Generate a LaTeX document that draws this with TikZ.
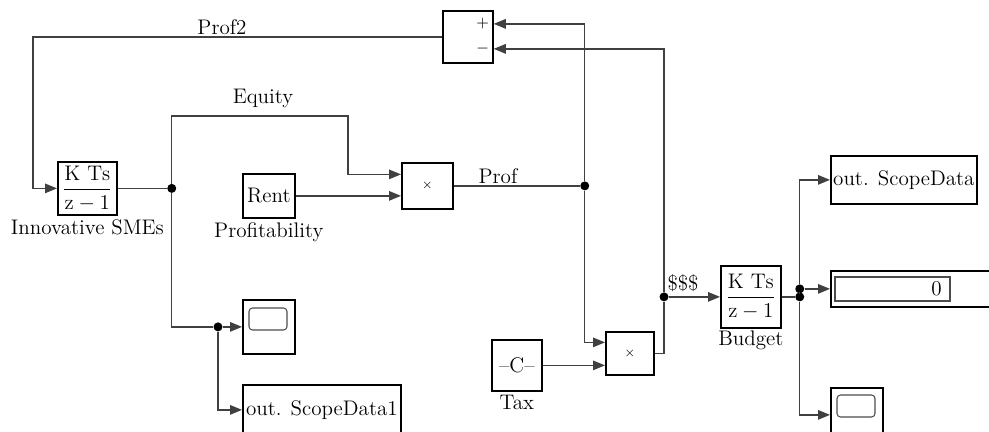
\documentclass[tikz,border=0pt]{standalone}
\usepackage{amsmath}
\usetikzlibrary{arrows.meta,calc}

\begin{document}
\begin{tikzpicture}[x=0.02cm,y=-0.02cm,
	font=\fontsize{12}{14}\selectfont,
	block/.style={draw,line width=1pt,inner sep=0pt,anchor=north west},
	wire/.style={draw=black!75,line width=0.8pt},
	arr/.style={wire,-{Triangle[length=2.4mm,width=1.9mm]}},
	dot/.style={circle,fill=black,inner sep=0pt,minimum size=0.18cm},
	lbl/.style={inner sep=1pt},
	screen/.style={draw=black!70,line width=0.6pt}]

		\useasboundingbox (0,0) rectangle (989,432);
		\clip (0,0) rectangle (989,432);

		% Sum block
		\node[block,minimum width=1cm,minimum height=1.04cm] (sum) at (442,10) {};
		\node[font=\small] (plus) at ($(sum.east)+(-11,-13)$) {$+$};
		\node[font=\small] (minus) at ($(sum.east)+(-11,12)$) {$-$};

		% Left part: integrator, rent, product
		\node[block,minimum width=1.18cm,minimum height=1.06cm] (smes) at (57,161)
			{$\dfrac{\mathrm{K\ Ts}}{\mathrm{z} - 1}$};
		\node[lbl,below=1pt] (smeslbl) at (smes.south) {Innovative SMEs};
		\node[block,minimum width=1.04cm,minimum height=0.88cm] (rent) at (242,173) {Rent};
		\node[lbl,below=1pt] (rentlbl) at (rent.south) {Profitability};
		\node[block,minimum width=1.02cm,minimum height=0.92cm,font=\scriptsize] (mult1) at (401,162) {$\times$};

		% Scope and workspace output
		\node[block,minimum width=1.04cm,minimum height=1.08cm] (scope1) at (242,299) {};
		\draw[screen,rounded corners=2pt] ($(scope1.north west)+(7,9)$) rectangle ++(38,22);
		\node[block,minimum width=3.16cm,minimum height=1cm] (sdata1) at (242,384) {out. ScopeData1};

		% Tax part
		\node[block,minimum width=1cm,minimum height=1.02cm] (const) at (491,339) {--C--};
		\node[lbl,below=1pt] (constlbl) at (const.south) {Tax};
		\node[block,minimum width=0.96cm,minimum height=0.86cm,font=\scriptsize] (mult2) at (605,331) {$\times$};

		% Budget and its outputs
		\node[block,minimum width=1.2cm,minimum height=1.24cm] (budget) at (720,265)
			{$\dfrac{\mathrm{K\ Ts}}{\mathrm{z} - 1}$};
		\node[lbl,below=0pt] (budgetlbl) at (budget.south) {Budget};
		\node[block,minimum width=2.92cm,minimum height=0.96cm] (sdata) at (830,155) {out. ScopeData};
		\node[block,minimum width=3.6cm,minimum height=0.72cm] (display) at (830,270) {};
		\draw[screen] ($(display.north west)+(5,7)$) rectangle ++(115,24);
		\node[anchor=east] (zero) at ($(display.west)+(118,0)$) {0};
		\node[block,minimum width=1.04cm,minimum height=1.08cm] (scope2) at (830,387) {};
		\draw[screen,rounded corners=2pt] ($(scope2.north west)+(7,8)$) rectangle ++(38,22);

		% Branch points
		\node[dot] (j1) at ($(smes.east)+(54,0)$) {};
		\node[dot] (j2) at ($(scope1.west)+(-24,0)$) {};
		\node[dot] (j3) at ($(mult1.east)+(131,0)$) {};
		\node[dot] (j4) at ($(budget.west)+(-56,0)$) {};
		\node[dot] (j5) at ($(budget.east)+(18,0)$) {};
		\node[dot] (j6) at (j5 |- display.west) {};

		% Signal lines
		\draw[arr] (sum.west) -| ($(smes.west)+(-24,0)$) -- (smes.west);
		\node[lbl] (prof2) at (222,27) {Prof2};
		\draw[wire] (smes.east) -- (j1);
		\draw[arr] (j1) |- (348,116) |- ($(mult1.west)+(0,-11.5)$);
		\node[lbl] (equity) at (263,98) {Equity};
		\draw[arr] (rent.east) -- (rent.east -| mult1.west);
		\draw[wire] (mult1.east) -- (j3);
		\node[lbl] (prof) at (498,176) {Prof};
		\draw[arr] (j3) |- ($(sum.east)+(0,-13)$);
		\draw[arr] (j3) |- ($(mult2.west)+(0,-11)$);
		\draw[arr] (const.east) -- (const.east -| mult2.west);
		\draw[wire] (mult2.east) -| (j4);
		\draw[arr] (j4) |- ($(sum.east)+(0,12)$);
		\draw[arr] (j4) -- (budget.west);
		\node[lbl] (money) at (683,283) {\$\$\$};
		\draw[wire] (budget.east) -- (j5);
		\draw[wire] (j5) -- (j6);
		\draw[arr] (j6) -- (display.west);
		\draw[arr] (j6) |- (sdata.west);
		\draw[arr] (j5) |- (scope2.west);
		\draw[wire] (j1) |- (j2);
		\draw[arr] (j2) -- (scope1.west);
		\draw[arr] (j2) |- (sdata1.west);

\end{tikzpicture}
\end{document}
